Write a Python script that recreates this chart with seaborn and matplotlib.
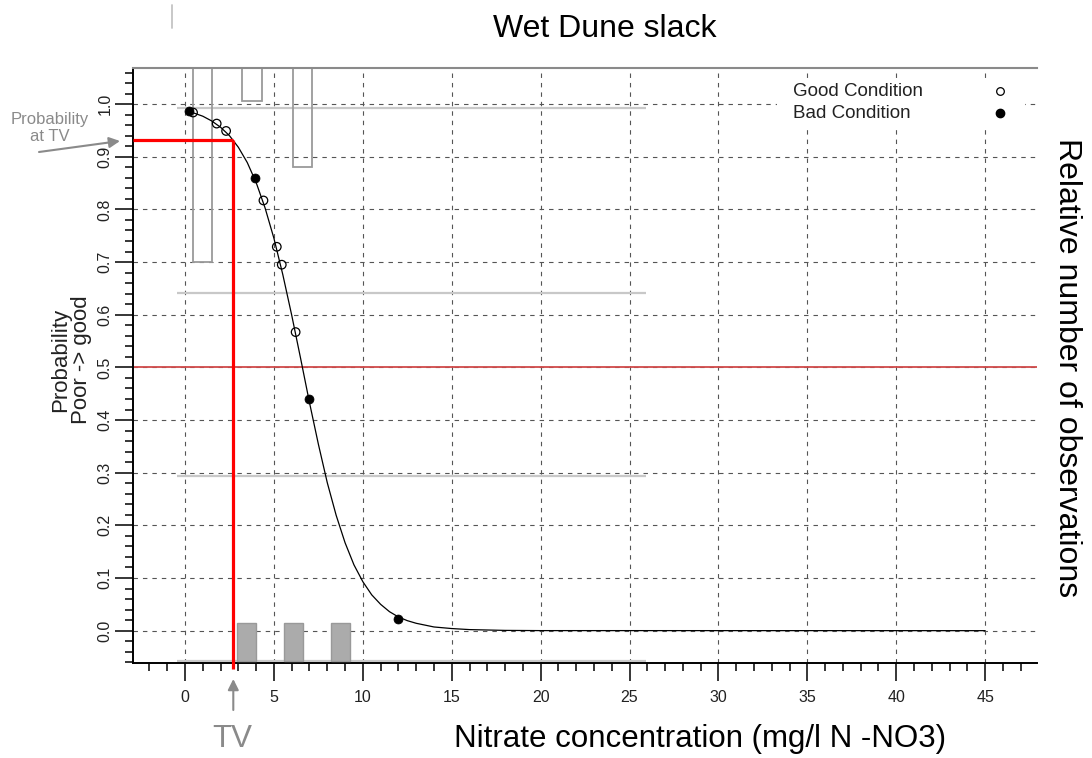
import numpy as np
import pandas as pd
import matplotlib
matplotlib.use("Agg")
import matplotlib.pyplot as plt
import seaborn as sns
from matplotlib.lines import Line2D
from matplotlib.patches import Rectangle
from matplotlib.ticker import MultipleLocator, FixedLocator, FixedFormatter

# ---------------- data ----------------
curve_x = [0.2, 0.5, 1.0, 1.5, 2.0, 2.5, 3.0, 3.5, 4.0, 4.5, 5.0, 5.5, 6.0, 6.5,
           7.0, 7.5, 8.0, 8.5, 9.0, 9.5, 10.0, 10.5, 11.0, 11.5, 12.0, 12.5,
           13.0, 14.0, 15.0, 16.0, 18.0, 20.0, 45.0]
curve_p = [0.986, 0.983, 0.977, 0.968, 0.956, 0.940, 0.918, 0.889, 0.851, 0.803,
           0.745, 0.676, 0.599, 0.517, 0.433, 0.354, 0.281, 0.219, 0.167, 0.125,
           0.093, 0.068, 0.050, 0.036, 0.026, 0.019, 0.014, 0.007, 0.004, 0.002,
           0.0005, 0.0001, 0.0]

good_x = [0.45, 1.78, 2.31, 4.41, 5.16, 5.44, 6.22]
good_p = [0.984, 0.963, 0.949, 0.817, 0.729, 0.695, 0.567]
bad_x = [0.22, 3.94, 6.97, 12.0]
bad_p = [0.986, 0.860, 0.439, 0.023]

good_bar_centers = [0.98, 3.77, 6.60]
good_bar_lengths = [0.368, 0.063, 0.188]
bad_bar_centers = [3.45, 6.11, 8.75]
bad_bar_lengths = [0.073, 0.073, 0.073]
hist_levels = [0.992, 0.642, 0.293, -0.058]
hist_span = [-0.47, 25.9]

tv_value = 2.72
prob_at_tv = 0.931
cut_prob = 0.5

x_ticks = [0, 5, 10, 15, 20, 25, 30, 35, 40, 45]
x_tick_labels = ["0", "5", "10", "15", "20", "25", "30", "35", "40", "45"]
y_ticks = [0.0, 0.1, 0.2, 0.3, 0.4, 0.5, 0.6, 0.7, 0.8, 0.9, 1.0]
y_tick_labels = ["0.0", "0.1", "0.2", "0.3", "0.4", "0.5", "0.6", "0.7", "0.8", "0.9", "1.0"]

title = "Wet Dune slack"
x_label = "Nitrate concentration (mg/l N -NO3)"
y_label = "Probability\nPoor -> good"
right_label = "Relative number of observations"
legend_labels = ["Good Condition", "Bad Condition"]

# ---------------- style ----------------
sns.set_style("white")
plt.rcParams["font.family"] = ["Liberation Sans", "DejaVu Sans"]

W, H = 1092, 758
fig = plt.figure(figsize=(W / 100, H / 100), dpi=100)
fig.patch.set_facecolor("white")

L, R, T, B = 133.3, 1036.7, 68.3, 663.3
ax = fig.add_axes([L / W, 1 - B / H, (R - L) / W, (B - T) / H])
ax.set_facecolor("white")
ymin, ymax = -0.062, 1.068
ax.set_xlim(-2.91, 47.9)
ax.set_ylim(ymin, ymax)

# grid
ax.xaxis.set_major_locator(FixedLocator(x_ticks))
ax.xaxis.set_major_formatter(FixedFormatter(x_tick_labels))
ax.yaxis.set_major_locator(FixedLocator(y_ticks))
ax.yaxis.set_major_formatter(FixedFormatter(y_tick_labels))
ax.xaxis.set_minor_locator(MultipleLocator(1))
ax.yaxis.set_minor_locator(MultipleLocator(0.02))
ax.grid(True, which="major", color="#555555", linestyle=(0, (4, 4.5)), lw=0.8, zorder=0)
ax.set_axisbelow(True)

# spines
ax.spines["right"].set_visible(False)
ax.spines["top"].set_color("#8a8a8a")
ax.spines["top"].set_linewidth(1.5)
for s in ("left", "bottom"):
    ax.spines[s].set_color("black")
    ax.spines[s].set_linewidth(1.4)

ax.tick_params(axis="both", which="both", bottom=True, left=True, top=False, right=False)
ax.tick_params(axis="both", which="major", direction="out", length=13, width=1.1,
               color="black", labelsize=11.5, labelcolor="#222222")
ax.tick_params(axis="both", which="minor", direction="out", length=5.8, width=1.1, color="black")
ax.tick_params(axis="x", which="major", pad=6)
ax.tick_params(axis="y", which="major", pad=2, labelrotation=90)
for lab in ax.get_yticklabels():
    lab.set_verticalalignment("center")

# histogram baselines
ax.hlines(hist_levels, hist_span[0], hist_span[1], color="#c8c8c8", lw=1.6, zorder=1)

# good-condition bars hanging from the top
ax.bar(good_bar_centers, good_bar_lengths, width=1.1,
       bottom=[ymax - l for l in good_bar_lengths], fill=False,
       edgecolor="#9a9a9a", lw=1.3, zorder=2)
# bad-condition bars standing on the bottom baseline
ax.bar(bad_bar_centers, bad_bar_lengths, width=1.05, bottom=hist_levels[-1],
       color="#ababab", edgecolor="#999999", lw=1.0, zorder=3)

# 0.5 cut line
ax.axhline(cut_prob, color="#d04a4a", lw=1.3, zorder=2)

# logistic curve and points
sns.lineplot(x=curve_x, y=curve_p, color="black", lw=0.9, ax=ax, sort=False,
             estimator=None, zorder=4)
sns.scatterplot(x=good_x, y=good_p, ax=ax, marker="o", s=38, facecolor="none",
                edgecolor="black", linewidth=0.9, zorder=5)
sns.scatterplot(x=bad_x, y=bad_p, ax=ax, marker="o", s=42, color="black",
                edgecolor="black", linewidth=0.5, zorder=5)

# threshold (TV) red lines
ax.plot([ax.get_xlim()[0], tv_value], [prob_at_tv, prob_at_tv], color="#ff0000",
        lw=2.3, solid_capstyle="butt", zorder=6, clip_on=False)
ax.plot([tv_value, tv_value], [prob_at_tv, -0.072], color="#ff0000",
        lw=2.3, solid_capstyle="butt", zorder=6, clip_on=False)

# legend (manual, text left-aligned, markers on the right)
def axx(px):
    return (px - L) / (R - L)

def axy(py):
    return (B - py) / (B - T)

ax.add_patch(Rectangle((axx(777), axy(128)), axx(1025) - axx(777), axy(79) - axy(128),
                       transform=ax.transAxes, facecolor="white", edgecolor="none", zorder=7))
ax.text(axx(793), axy(92), legend_labels[0], transform=ax.transAxes, fontsize=13.5,
        color="#222222", va="center", ha="left", zorder=8)
ax.text(axx(793), axy(113), legend_labels[1], transform=ax.transAxes, fontsize=13.5,
        color="#222222", va="center", ha="left", zorder=8)
ax.plot([axx(1000)], [axy(91)], transform=ax.transAxes, marker="o", ms=5.5,
        mfc="white", mec="black", mew=0.9, ls="none", zorder=8, clip_on=False)
ax.plot([axx(1000)], [axy(113)], transform=ax.transAxes, marker="o", ms=6,
        mfc="black", mec="black", ls="none", zorder=8, clip_on=False)

# texts
fig.text(605 / W, 1 - 37.3 / H, title, fontsize=23, ha="center", va="baseline", color="black")
fig.text(700 / W, 1 - 746.7 / H, x_label, fontsize=22.5, ha="center", va="baseline", color="black")
fig.text(1067 / W, 1 - 367.5 / H, right_label, fontsize=23, rotation=-90,
         ha="center", va="center", color="black")
fig.text(71 / W, 1 - 360 / H, y_label, fontsize=16, rotation=90, ha="center",
         va="center", linespacing=0.95, color="#222222")
fig.text(232.7 / W, 1 - 746.7 / H, "TV", fontsize=22.5, ha="center", va="baseline",
         color="#8a8a8a")
fig.text(50 / W, 1 - 128 / H, "Probability\nat TV", fontsize=12, ha="center",
         va="center", linespacing=1.15, color="#8a8a8a")

# annotation arrows
ax.annotate("", xy=(120, H - 141), xycoords="figure pixels",
            xytext=(39, H - 152), textcoords="figure pixels",
            arrowprops=dict(arrowstyle="-|>", color="#8a8a8a", lw=1.5,
                            mutation_scale=16, shrinkA=0, shrinkB=0))
ax.annotate("", xy=(233.3, H - 679), xycoords="figure pixels",
            xytext=(233.3, H - 710), textcoords="figure pixels",
            arrowprops=dict(arrowstyle="-|>", color="#8a8a8a", lw=1.5,
                            mutation_scale=16, shrinkA=0, shrinkB=0))

# small grey mark at the top left
fig.add_artist(Line2D([171.7 / W, 171.7 / W], [1 - 5 / H, 1 - 28 / H],
                      color="#c4c4c4", lw=1.3))

fig.savefig("out.png", dpi=100, facecolor="white")
